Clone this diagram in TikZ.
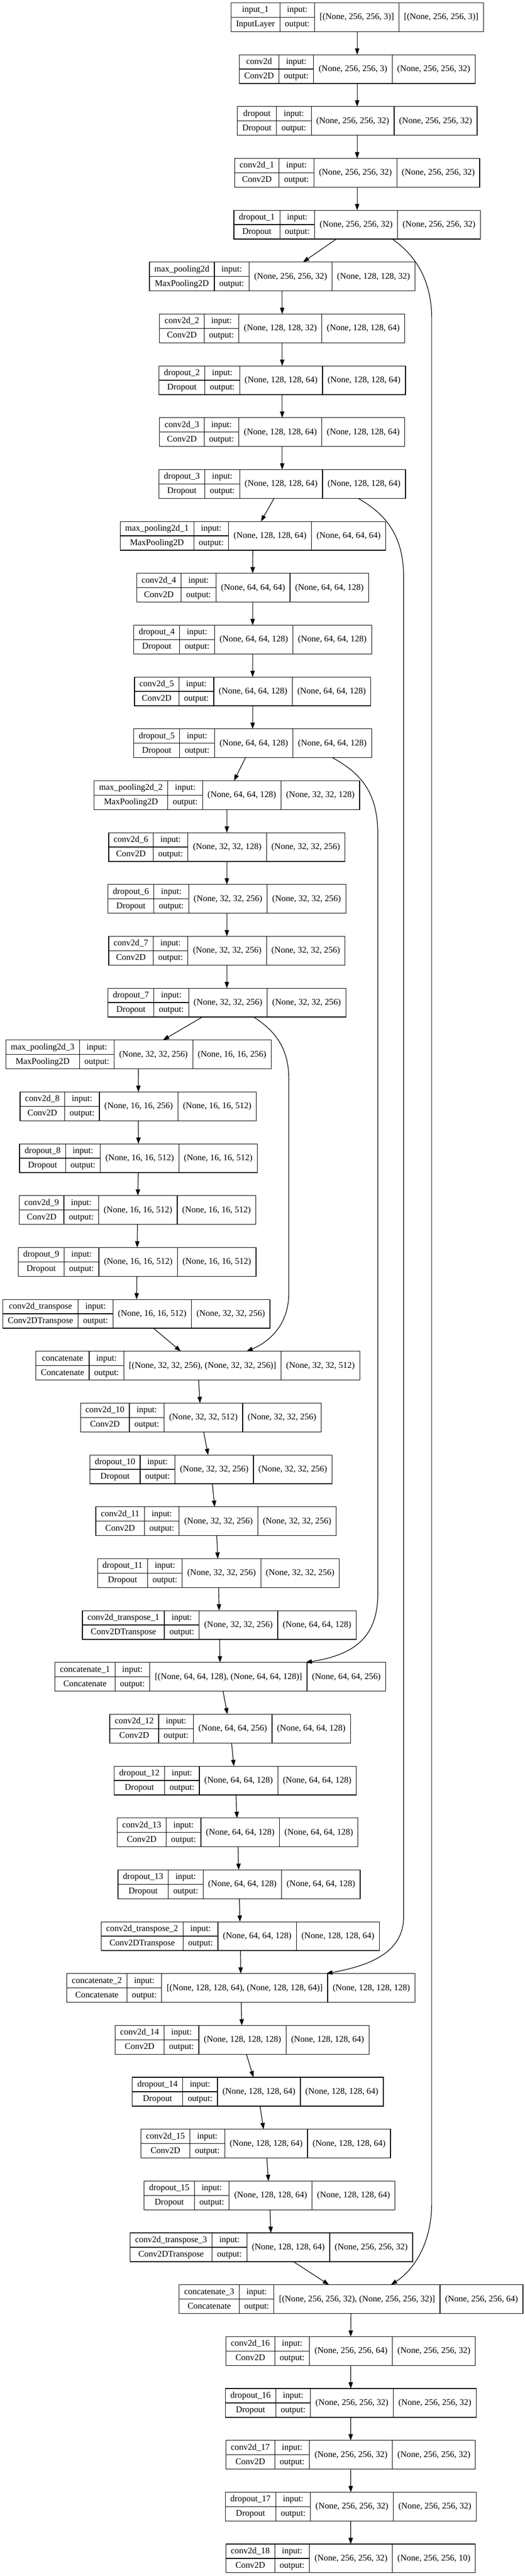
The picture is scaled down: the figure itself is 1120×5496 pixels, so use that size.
\documentclass[tikz,border=0pt]{standalone}
\usepackage{fontspec}
\setmainfont{Liberation Serif}
\usetikzlibrary{arrows.meta}
\newlength\kwA \newlength\kwB \newlength\kwC \newlength\kwD \newlength\kwIO \newlength\kwT
\newcommand\kfont{\fontsize{14}{16.8}\selectfont}
\tikzset{
  layerbox/.style={draw=black, line width=1pt, minimum height=46pt, inner sep=0pt, outer sep=0pt},
  cellline/.style={draw=black, line width=1pt},
  celltext/.style={inner sep=0pt, text height=10pt, text depth=2.5pt, font=\kfont, anchor=center},
  arr/.style={draw=black, line width=1pt, -{Triangle[length=10pt,width=7pt]}},
}
% #1 id, #2 name, #3 class, #4 input shape, #5 output shape, #6 centre x (px), #7 row index
\newcommand\klayer[7]{%
  \pgfinterruptpicture
    \settowidth\kwA{\kfont #2}\settowidth\kwB{\kfont #3}%
    \ifdim\kwB>\kwA \kwA=\kwB\fi
    \settowidth\kwIO{\kfont output:}%
    \settowidth\kwC{\kfont #4}%
    \settowidth\kwD{\kfont #5}%
    \global\kwA=\kwA \global\kwIO=\kwIO \global\kwC=\kwC \global\kwD=\kwD
  \endpgfinterruptpicture
  \addtolength\kwA{16pt}\addtolength\kwIO{16pt}%
  \addtolength\kwC{16pt}\addtolength\kwD{16pt}%
  \kwT=\dimexpr\kwA+\kwIO+\kwC+\kwD\relax
  \pgfmathsetmacro\kyc{36.7+#7*110.65}%
  \pgfmathsetmacro\kyt{\kyc-30.667}%
  \pgfmathsetmacro\kyb{\kyc+30.667}%
  \pgfmathsetmacro\kxa{#6-\kwT/1.5}%
  \pgfmathsetmacro\kxb{\kxa+\kwA/0.75}%
  \pgfmathsetmacro\kxc{\kxb+\kwIO/0.75}%
  \pgfmathsetmacro\kxd{\kxc+\kwC/0.75}%
  \pgfmathsetmacro\kxe{\kxd+\kwD/0.75}%
  \node[layerbox, minimum width=\the\kwT] (#1) at (#6,\kyc) {};
  \draw[cellline] (\kxb,\kyt) -- (\kxb,\kyb) (\kxc,\kyt) -- (\kxc,\kyb)
                  (\kxd,\kyt) -- (\kxd,\kyb) (\kxa,\kyc) -- (\kxc,\kyc);
  \node[celltext] (#1-n) at ({(\kxa+\kxb)/2},{\kyc-15.333}) {#2};
  \node[celltext] (#1-c) at ({(\kxa+\kxb)/2},{\kyc+15.333}) {#3};
  \node[celltext] (#1-i) at ({(\kxb+\kxc)/2},{\kyc-15.333}) {input:};
  \node[celltext] (#1-o) at ({(\kxb+\kxc)/2},{\kyc+15.333}) {output:};
  \node[celltext] (#1-in) at ({(\kxc+\kxd)/2},\kyc) {#4};
  \node[celltext] (#1-out) at ({(\kxd+\kxe)/2},\kyc) {#5};
}
\begin{document}
\begin{tikzpicture}[x=0.75pt,y=-0.75pt]
\useasboundingbox (0,0) rectangle (1120,5496);
\klayer{L0}{input\_1}{InputLayer}{[(None, 256, 256, 3)]}{[(None, 256, 256, 3)]}{762}{0}
\klayer{L1}{conv2d}{Conv2D}{(None, 256, 256, 3)}{(None, 256, 256, 32)}{762}{1}
\klayer{L2}{dropout}{Dropout}{(None, 256, 256, 32)}{(None, 256, 256, 32)}{762}{2}
\klayer{L3}{conv2d\_1}{Conv2D}{(None, 256, 256, 32)}{(None, 256, 256, 32)}{762}{3}
\klayer{L4}{dropout\_1}{Dropout}{(None, 256, 256, 32)}{(None, 256, 256, 32)}{762}{4}
\klayer{L5}{max\_pooling2d}{MaxPooling2D}{(None, 256, 256, 32)}{(None, 128, 128, 32)}{602}{5}
\klayer{L6}{conv2d\_2}{Conv2D}{(None, 128, 128, 32)}{(None, 128, 128, 64)}{602}{6}
\klayer{L7}{dropout\_2}{Dropout}{(None, 128, 128, 64)}{(None, 128, 128, 64)}{602}{7}
\klayer{L8}{conv2d\_3}{Conv2D}{(None, 128, 128, 64)}{(None, 128, 128, 64)}{602}{8}
\klayer{L9}{dropout\_3}{Dropout}{(None, 128, 128, 64)}{(None, 128, 128, 64)}{602}{9}
\klayer{L10}{max\_pooling2d\_1}{MaxPooling2D}{(None, 128, 128, 64)}{(None, 64, 64, 64)}{539.5}{10}
\klayer{L11}{conv2d\_4}{Conv2D}{(None, 64, 64, 64)}{(None, 64, 64, 128)}{539}{11}
\klayer{L12}{dropout\_4}{Dropout}{(None, 64, 64, 128)}{(None, 64, 64, 128)}{539}{12}
\klayer{L13}{conv2d\_5}{Conv2D}{(None, 64, 64, 128)}{(None, 64, 64, 128)}{539}{13}
\klayer{L14}{dropout\_5}{Dropout}{(None, 64, 64, 128)}{(None, 64, 64, 128)}{539}{14}
\klayer{L15}{max\_pooling2d\_2}{MaxPooling2D}{(None, 64, 64, 128)}{(None, 32, 32, 128)}{484}{15}
\klayer{L16}{conv2d\_6}{Conv2D}{(None, 32, 32, 128)}{(None, 32, 32, 256)}{484}{16}
\klayer{L17}{dropout\_6}{Dropout}{(None, 32, 32, 256)}{(None, 32, 32, 256)}{484}{17}
\klayer{L18}{conv2d\_7}{Conv2D}{(None, 32, 32, 256)}{(None, 32, 32, 256)}{484}{18}
\klayer{L19}{dropout\_7}{Dropout}{(None, 32, 32, 256)}{(None, 32, 32, 256)}{484}{19}
\klayer{L20}{max\_pooling2d\_3}{MaxPooling2D}{(None, 32, 32, 256)}{(None, 16, 16, 256)}{295.5}{20}
\klayer{L21}{conv2d\_8}{Conv2D}{(None, 16, 16, 256)}{(None, 16, 16, 512)}{295}{21}
\klayer{L22}{dropout\_8}{Dropout}{(None, 16, 16, 512)}{(None, 16, 16, 512)}{295.5}{22}
\klayer{L23}{conv2d\_9}{Conv2D}{(None, 16, 16, 512)}{(None, 16, 16, 512)}{293.5}{23}
\klayer{L24}{dropout\_9}{Dropout}{(None, 16, 16, 512)}{(None, 16, 16, 512)}{292.5}{24}
\klayer{L25}{conv2d\_transpose}{Conv2DTranspose}{(None, 16, 16, 512)}{(None, 32, 32, 256)}{291}{25}
\klayer{L26}{concatenate}{Concatenate}{[(None, 32, 32, 256), (None, 32, 32, 256)]}{(None, 32, 32, 512)}{422}{26}
\klayer{L27}{conv2d\_10}{Conv2D}{(None, 32, 32, 512)}{(None, 32, 32, 256)}{428.5}{27}
\klayer{L28}{dropout\_10}{Dropout}{(None, 32, 32, 256)}{(None, 32, 32, 256)}{450}{28}
\klayer{L29}{conv2d\_11}{Conv2D}{(None, 32, 32, 256)}{(None, 32, 32, 256)}{461}{29}
\klayer{L30}{dropout\_11}{Dropout}{(None, 32, 32, 256)}{(None, 32, 32, 256)}{466}{30}
\klayer{L31}{conv2d\_transpose\_1}{Conv2DTranspose}{(None, 32, 32, 256)}{(None, 64, 64, 128)}{468}{31}
\klayer{L32}{concatenate\_1}{Concatenate}{[(None, 64, 64, 128), (None, 64, 64, 128)]}{(None, 64, 64, 256)}{470}{32}
\klayer{L33}{conv2d\_12}{Conv2D}{(None, 64, 64, 256)}{(None, 64, 64, 128)}{491}{33}
\klayer{L34}{dropout\_12}{Dropout}{(None, 64, 64, 128)}{(None, 64, 64, 128)}{502}{34}
\klayer{L35}{conv2d\_13}{Conv2D}{(None, 64, 64, 128)}{(None, 64, 64, 128)}{507}{35}
\klayer{L36}{dropout\_13}{Dropout}{(None, 64, 64, 128)}{(None, 64, 64, 128)}{510}{36}
\klayer{L37}{conv2d\_transpose\_2}{Conv2DTranspose}{(None, 64, 64, 128)}{(None, 128, 128, 64)}{512.6}{37}
\klayer{L38}{concatenate\_2}{Concatenate}{[(None, 128, 128, 64), (None, 128, 128, 64)]}{(None, 128, 128, 128)}{514}{38}
\klayer{L39}{conv2d\_14}{Conv2D}{(None, 128, 128, 128)}{(None, 128, 128, 64)}{516.5}{39}
\klayer{L40}{dropout\_14}{Dropout}{(None, 128, 128, 64)}{(None, 128, 128, 64)}{550}{40}
\klayer{L41}{conv2d\_15}{Conv2D}{(None, 128, 128, 64)}{(None, 128, 128, 64)}{567}{41}
\klayer{L42}{dropout\_15}{Dropout}{(None, 128, 128, 64)}{(None, 128, 128, 64)}{575}{42}
\klayer{L43}{conv2d\_transpose\_3}{Conv2DTranspose}{(None, 128, 128, 64)}{(None, 256, 256, 32)}{579}{43}
\klayer{L44}{concatenate\_3}{Concatenate}{[(None, 256, 256, 32), (None, 256, 256, 32)]}{(None, 256, 256, 64)}{749}{44}
\klayer{L45}{conv2d\_16}{Conv2D}{(None, 256, 256, 64)}{(None, 256, 256, 32)}{748}{45}
\klayer{L46}{dropout\_16}{Dropout}{(None, 256, 256, 32)}{(None, 256, 256, 32)}{748.5}{46}
\klayer{L47}{conv2d\_17}{Conv2D}{(None, 256, 256, 32)}{(None, 256, 256, 32)}{748}{47}
\klayer{L48}{dropout\_17}{Dropout}{(None, 256, 256, 32)}{(None, 256, 256, 32)}{748.5}{48}
\klayer{L49}{conv2d\_18}{Conv2D}{(None, 256, 256, 32)}{(None, 256, 256, 10)}{748}{49}
% main chain
\foreach \i in {0,...,48}{
  \pgfmathtruncatemacro\j{\i+1}
  \draw[arr] (L\i) -- (L\j);
}
% skip connections
\draw[arr] ([xshift=56.25pt]L4.south) .. controls (880,540) and (921,590) .. (921,680)
  -- (921,4700) .. controls (921,4790) and (880,4845) .. ([xshift=63.75pt]L44.north);
\draw[arr] ([xshift=121.5pt]L9.south) .. controls (820,1095) and (861,1140) .. (861,1230)
  -- (861,4090) .. controls (861,4170) and (780,4195) .. ([xshift=136.5pt]L38.north);
\draw[arr] ([xshift=127.5pt]L14.south) .. controls (770,1650) and (806,1690) .. (806,1780)
  -- (806,3400) .. controls (806,3490) and (760,3530) .. ([xshift=136.5pt]L32.north);
\draw[arr] ([xshift=42.75pt]L19.south) .. controls (580,2195) and (616,2230) .. (616,2300)
  -- (616,2760) .. controls (616,2830) and (570,2865) .. ([xshift=78pt]L26.north);
\end{tikzpicture}
\end{document}
